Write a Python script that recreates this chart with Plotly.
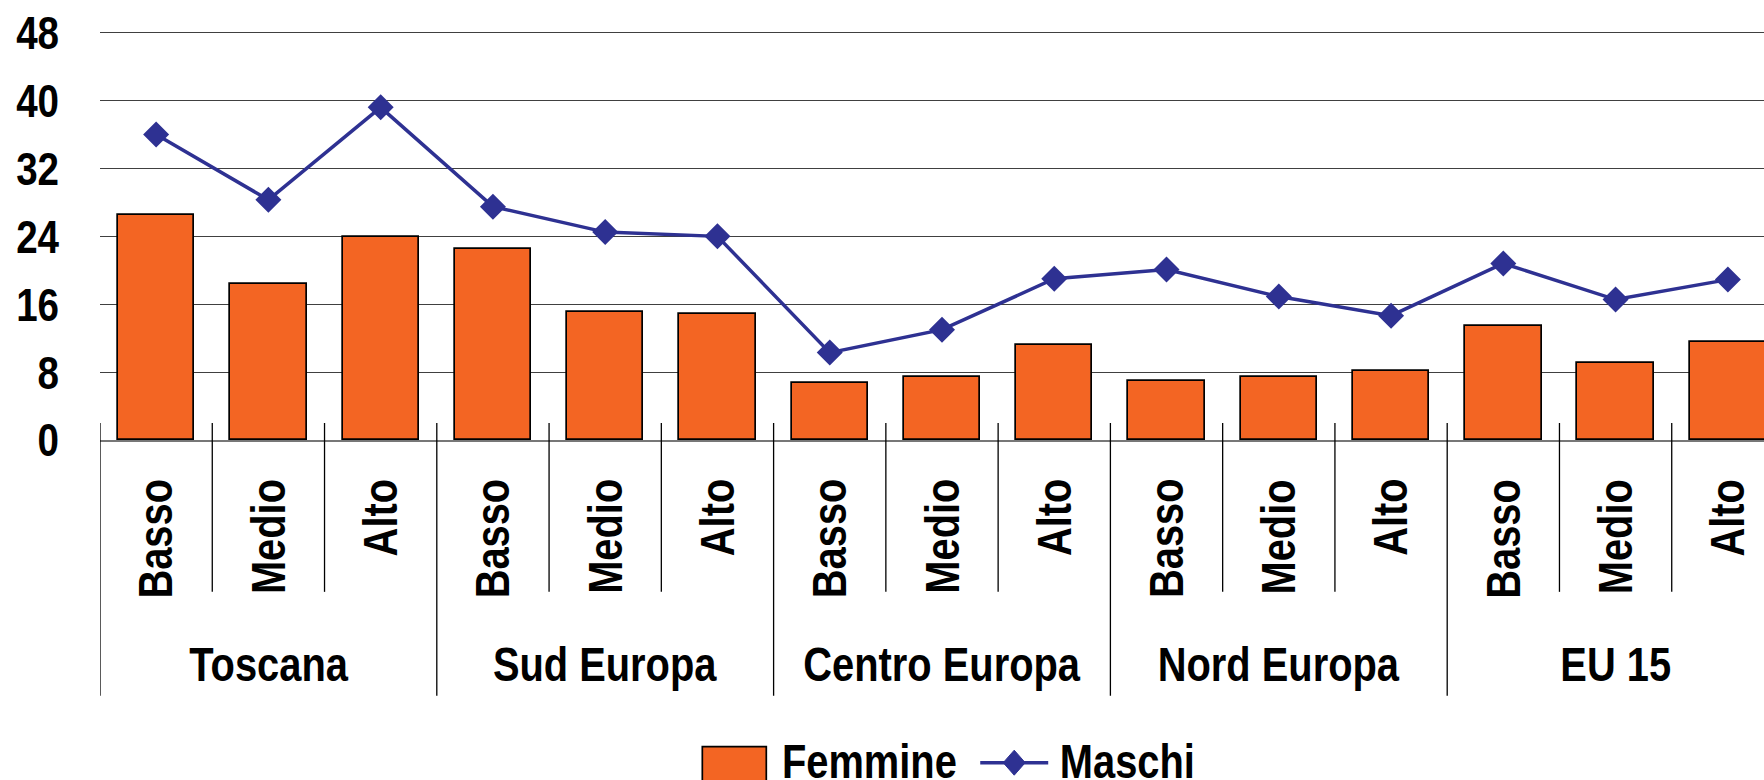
import plotly.graph_objects as go

# ---- data ----
groups = ["Toscana", "Sud Europa", "Centro Europa", "Nord Europa", "EU 15"]
levels = ["Basso", "Medio", "Alto"]
femmine = [26.5, 18.4, 23.9, 22.5, 15.1, 14.85, 6.7, 7.4, 11.25, 6.9, 7.4, 8.1, 13.4, 9.1, 11.5]
maschi = [36.0, 28.3, 39.2, 27.5, 24.5, 24.0, 10.3, 13.0, 19.0, 20.1, 16.9, 14.65, 20.8, 16.55, 18.9]
y_ticks = [0, 8, 16, 24, 32, 40, 48]

# ---- style ----
FONT = "Liberation Sans, Arial, sans-serif"
FS = 48          # category / legend labels
FS_TICK = 47     # y tick labels
NARROW = 0.83    # Arial Narrow look: horizontal compression of Arial Bold
NARROW_TICK = 0.82
ORANGE = "#F36523"
BLUE = "#2E3192"
W, H = 1764, 780
ML, MB = 99.5, 340
PX_PER_UNIT = 8.494
Y_TOP = 48.2
MT = (H - MB) - Y_TOP * PX_PER_UNIT
PW = W - ML
PH = H - MT - MB
CAT_W = 112.3

# approximate Arial Bold label lengths (em) to top-align rotated labels
label_em = {"Basso": 3.001, "Medio": 2.889, "Alto": 1.944}

n = len(femmine)
xs = list(range(n))
x_right = -0.5 + PW / CAT_W


def py2paper(py):
    return (H - MB - py) / PH


def px2paper(px):
    return (px - ML) / PW


fig = go.Figure()
fig.add_trace(go.Bar(
    x=xs, y=femmine, name="Femmine", width=0.68,
    marker=dict(color=ORANGE, line=dict(color="black", width=1.7)),
    showlegend=False,
))
fig.add_trace(go.Scatter(
    x=xs, y=maschi, name="Maschi", mode="lines+markers",
    line=dict(color=BLUE, width=3.5),
    marker=dict(symbol="diamond", size=20, color=BLUE),
    cliponaxis=False, showlegend=False,
))

tfont = dict(family=FONT, size=FS, color="black", weight="bold")
shapes = []
annotations = []
# category boundary lines
for k in range(n + 1):
    is_group = (k % len(levels) == 0)
    shapes.append(dict(
        type="line", xref="x", yref="paper",
        x0=k - 0.5, x1=k - 0.5,
        y0=py2paper(423), y1=py2paper(696 if is_group else 592),
        line=dict(color="black", width=1.3), layer="above",
    ))
# inner labels (rotated, top-aligned at ~479px)
for k in range(n):
    lab = levels[k % len(levels)]
    length = label_em[lab] * NARROW * FS
    annotations.append(dict(
        x=k, y=py2paper(479 + length / 2), xref="x", yref="paper",
        text=lab, textangle=-90,
        xanchor="center", yanchor="middle", showarrow=False, font=tfont,
    ))
# group labels
for g, name in enumerate(groups):
    annotations.append(dict(
        x=g * len(levels) + (len(levels) - 1) / 2, y=py2paper(665),
        xref="x", yref="paper", text=name,
        xanchor="center", yanchor="middle", showarrow=False, font=tfont,
    ))

# custom legend
leg_y = 762
shapes.append(dict(
    type="rect", xref="paper", yref="paper",
    x0=px2paper(702), x1=px2paper(766), y0=py2paper(747), y1=py2paper(792),
    fillcolor=ORANGE, line=dict(color="black", width=1.7),
))
annotations.append(dict(
    x=px2paper(869), y=py2paper(leg_y), xref="paper", yref="paper",
    text="Femmine", xanchor="center", yanchor="middle", showarrow=False, font=tfont,
))
shapes.append(dict(
    type="line", xref="paper", yref="paper",
    x0=px2paper(980), x1=px2paper(1048), y0=py2paper(763), y1=py2paper(763),
    line=dict(color=BLUE, width=3.5),
))
shapes.append(dict(
    type="path", xref="paper", yref="paper",
    xsizemode="pixel", ysizemode="pixel",
    xanchor=px2paper(1014), yanchor=py2paper(763),
    path="M -11 0 L 0 12.5 L 11 0 L 0 -12.5 Z",
    fillcolor=BLUE, line=dict(color=BLUE, width=1),
))
annotations.append(dict(
    x=px2paper(1127), y=py2paper(leg_y), xref="paper", yref="paper",
    text="Maschi", xanchor="center", yanchor="middle", showarrow=False, font=tfont,
))

fig.update_layout(
    width=W, height=H,
    margin=dict(l=ML, r=0, t=MT, b=MB, pad=0),
    paper_bgcolor="white", plot_bgcolor="white",
    shapes=shapes, annotations=annotations,
    showlegend=False, bargap=0,
    font=dict(family=FONT, color="black"),
)
fig.update_xaxes(
    range=[-0.5, x_right], showticklabels=False, showgrid=False,
    zeroline=False, showline=True, linecolor="#777777", linewidth=1.5,
    ticks="", automargin=False, fixedrange=True,
)
fig.update_yaxes(
    range=[0, Y_TOP], tickvals=y_ticks, ticktext=[str(v) for v in y_ticks],
    showgrid=True, gridcolor="#404040", gridwidth=1.2,
    zeroline=False, showline=False, ticks="", ticklabelstandoff=40,
    tickfont=dict(family=FONT, size=FS_TICK, color="black", weight="bold"),
    automargin=False, fixedrange=True,
)

post = """
document.body.style.margin='0';document.body.style.overflow='hidden';
var gd = document.getElementById('{plot_id}');
gd.querySelectorAll('text').forEach(function(t){
  var L = t.getComputedTextLength();
  var f = t.closest('.ytick') ? %s : %s;
  if (L > 0) {
    t.setAttribute('textLength', (L*f).toFixed(2));
    t.setAttribute('lengthAdjust', 'spacingAndGlyphs');
  }
});
""" % (NARROW_TICK, NARROW)

fig.write_html("out.html", config={"displayModeBar": False}, post_script=post)
